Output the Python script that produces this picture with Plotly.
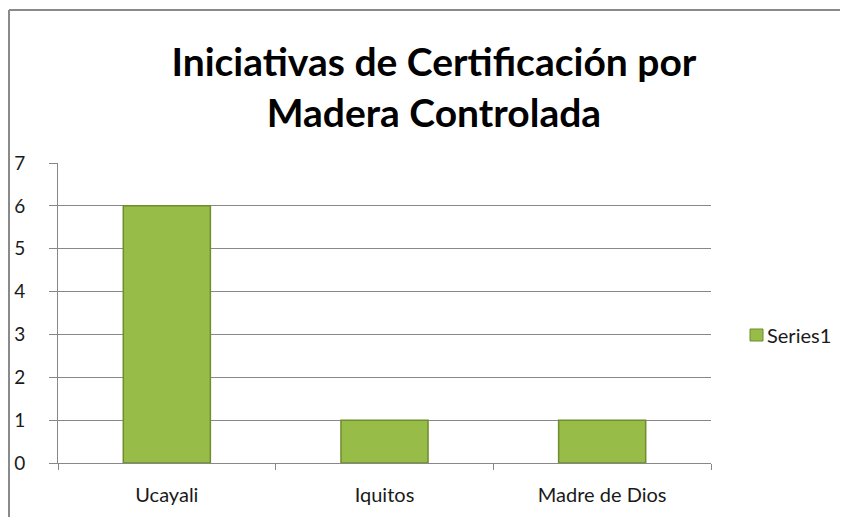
import plotly.graph_objects as go

# data
categories = ["Ucayali", "Iquitos", "Madre de Dios"]
values = [6, 1, 1]
series_name = "Series1"
title_lines = ["Iniciativas de Certificación por", "Madera Controlada"]

FONT = "Lato"
GRID = "#888888"
BAR = "#97bc47"
BAR_EDGE = "#6f8c2e"

# the page body adds an 8px margin, so the figure is drawn 8px smaller
W, H = 840, 509
L, R, T, B = 50, 137, 155, 54
plot_w = W - L - R
plot_h = H - T - B


def px_x(x):
    # figure pixel -> paper x
    return (x - L) / plot_w


def px_y(y):
    # figure pixel -> paper y
    return (H - B - y) / plot_h


fig = go.Figure()

fig.add_trace(
    go.Bar(
        x=categories,
        y=values,
        name=series_name,
        width=0.4,
        marker=dict(color=BAR, line=dict(color=BAR_EDGE, width=1.5)),
        showlegend=False,
    )
)

fig.update_layout(
    width=W,
    height=H,
    margin=dict(l=L, r=R, t=T, b=B),
    paper_bgcolor="white",
    plot_bgcolor="white",
    font=dict(family=FONT, size=20, color="#1a1a1a"),
    title=dict(
        text="<br>".join(title_lines),
        font=dict(family=FONT, size=39, color="black", weight="bold"),
        x=0.507,
        xanchor="center",
        y=0.866,
        yanchor="top",
    ),
    showlegend=False,
)

fig.update_xaxes(
    automargin=False,
    showgrid=False,
    showline=True,
    linecolor=GRID,
    linewidth=1,
    ticks="outside",
    tickson="boundaries",
    ticklen=6,
    tickcolor=GRID,
    ticklabelstandoff=14,
)

fig.update_yaxes(
    automargin=False,
    range=[0, 7],
    dtick=1,
    showgrid=True,
    gridcolor=GRID,
    gridwidth=1,
    showline=True,
    linecolor=GRID,
    linewidth=1,
    ticks="outside",
    ticklen=8,
    tickcolor=GRID,
    zeroline=False,
    ticklabelstandoff=20,
    tickfont=dict(size=19),
)

# legend drawn by hand so the swatch sits close to its label
fig.add_shape(
    type="rect",
    xref="paper", yref="paper",
    x0=px_x(742), x1=px_x(755),
    y0=px_y(333), y1=px_y(321),
    fillcolor=BAR,
    line=dict(color=BAR_EDGE, width=1),
)
fig.add_annotation(
    text=series_name,
    xref="paper", yref="paper",
    x=px_x(757), y=px_y(327),
    xanchor="left", yanchor="middle",
    showarrow=False,
    font=dict(family=FONT, size=20, color="#1a1a1a"),
)

# chart frame (the original is cropped on the right and bottom)
frame = dict(color="#8a8a8a", width=2)
fig.add_shape(type="line", xref="paper", yref="paper",
              x0=px_x(1), x1=px_x(W + 10), y0=px_y(2), y1=px_y(2), line=frame)
fig.add_shape(type="line", xref="paper", yref="paper",
              x0=px_x(1), x1=px_x(1), y0=px_y(2), y1=px_y(H + 10), line=frame)

fig.write_html("out.html")
